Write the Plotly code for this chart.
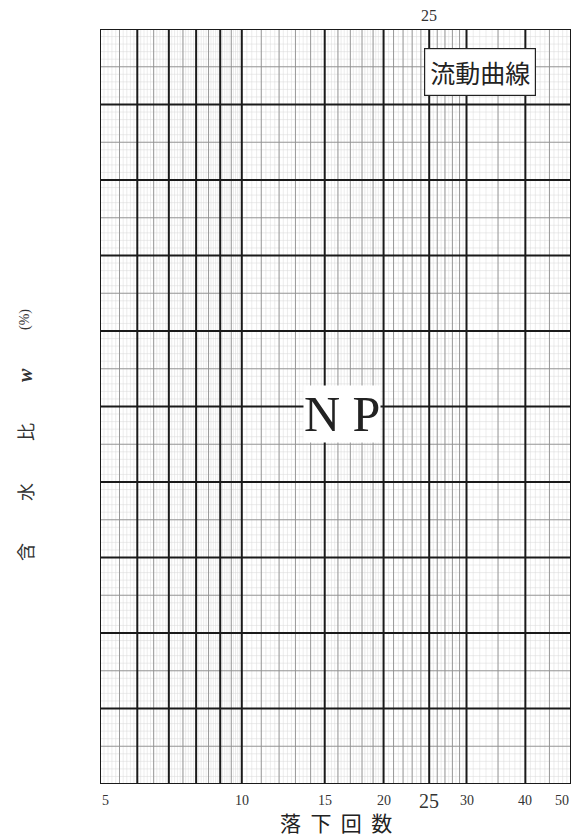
import numpy as np
import plotly.graph_objects as go

# Axis definitions (semi-log flow curve paper)
x_min, x_max = 5, 50
y_min, y_max = 0, 100
x_tick_vals = [5, 10, 15, 20, 25, 30, 40, 50]
x_tick_text = ["5", "10", "15", "20", "25", "30", "40", "50"]

x_major = [5, 6, 7, 8, 9, 10, 15, 20, 25, 30, 40, 50]
x_medium = [5.5, 6.5, 7.5, 8.5, 9.5, 11, 12, 13, 14, 16, 17, 18, 19,
            21, 22, 23, 24, 26, 27, 28, 29, 35, 45]
x_minor = ([round(5 + 0.1 * i, 2) for i in range(50)] +
           [round(10 + 0.25 * i, 2) for i in range(40)] +
           [round(20 + 0.5 * i, 2) for i in range(20)] +
           [30 + i for i in range(20)])
y_major = list(range(0, 101, 10))
y_medium = list(range(5, 100, 10))
y_minor = list(range(0, 101, 1))


def segs(xs, ys):
    X, Y = [], []
    for v in xs:
        X += [v, v, None]
        Y += [y_min, y_max, None]
    for v in ys:
        X += [x_min, x_max, None]
        Y += [v, v, None]
    return X, Y


fig = go.Figure()
for xs, ys, col, w in [(x_minor, y_minor, "#d9d9d9", 0.5),
                       (x_medium, y_medium, "#909090", 0.9),
                       (x_major, y_major, "#1a1a1a", 2.0)]:
    X, Y = segs(xs, ys)
    fig.add_trace(go.Scatter(x=X, y=Y, mode="lines", line=dict(color=col, width=w),
                             hoverinfo="skip", showlegend=False))

serif = "Liberation Serif, DejaVu Serif, serif"
cjk = "Noto Sans CJK JP"

fig.update_layout(
    width=577, height=839,
    margin=dict(l=100, r=6, t=29, b=55),
    plot_bgcolor="white", paper_bgcolor="white",
    xaxis=dict(type="log", range=[np.log10(x_min), np.log10(x_max)],
               showticklabels=False, showgrid=False, zeroline=False, ticks="",
               showline=False),
    yaxis=dict(range=[y_min, y_max], showticklabels=False, showgrid=False,
               zeroline=False, ticks="", showline=False),
)

# x tick labels
for v, t in zip(x_tick_vals, x_tick_text):
    anchor = "left" if v == x_min else ("right" if v == x_max else "center")
    fig.add_annotation(xref="x", yref="paper", x=np.log10(v), y=0, yanchor="top",
                       xanchor=anchor, yshift=-4 if v == 25 else -7, text=t,
                       showarrow=False,
                       font=dict(family=serif, size=20 if v == 25 else 14, color="#333"))

# x title
fig.add_annotation(xref="paper", yref="paper", x=0.5, y=-(822 - 784) / 755,
                   xanchor="center", yanchor="middle", borderpad=0,
                   text="落  下  回  数", showarrow=False,
                   font=dict(family=cjk, size=21, color="#222"))

# y title (separate characters, rotated)
y_title_chars = ["含", "水", "比", "<b><i>w</i></b>", "(%)"]
y_title_px = [552, 492, 432, 375, 320]
for ch, py in zip(y_title_chars, y_title_px):
    fig.add_annotation(xref="paper", yref="paper", x=(25 - 100) / 471,
                       y=(784 - py) / 755, xanchor="center", yanchor="middle",
                       text=ch, textangle=-90, showarrow=False,
                       font=dict(family=cjk if ch in "含水比" else serif,
                                 size=18 if ch in "含水比" else (20 if "w" in ch else 14),
                                 color="#333"))

# top 25 label
fig.add_annotation(xref="x", yref="paper", x=np.log10(25), y=1.0, xanchor="center",
                   yanchor="bottom", yshift=3, text="25", showarrow=False,
                   font=dict(family=serif, size=16, color="#333"))

# NP label
fig.add_annotation(xref="paper", yref="paper", x=(342 - 100) / 471, y=(784 - 414) / 755,
                   xanchor="center", yanchor="middle",
                   text="N P", showarrow=False, bgcolor="white",
                   font=dict(family=serif, size=50, color="#222"), borderpad=0)

# 流動曲線 box
fig.add_annotation(xref="paper", yref="paper", x=(480 - 100) / 471, y=(784 - 72) / 755,
                   xanchor="center", yanchor="middle",
                   text="流動曲線", showarrow=False, bgcolor="white",
                   bordercolor="#222", borderwidth=1.2, borderpad=5,
                   font=dict(family=cjk, size=25, color="#222"))

fig.write_html("out.html", config={"displayModeBar": False},
               post_script="document.body.style.margin='0';")
